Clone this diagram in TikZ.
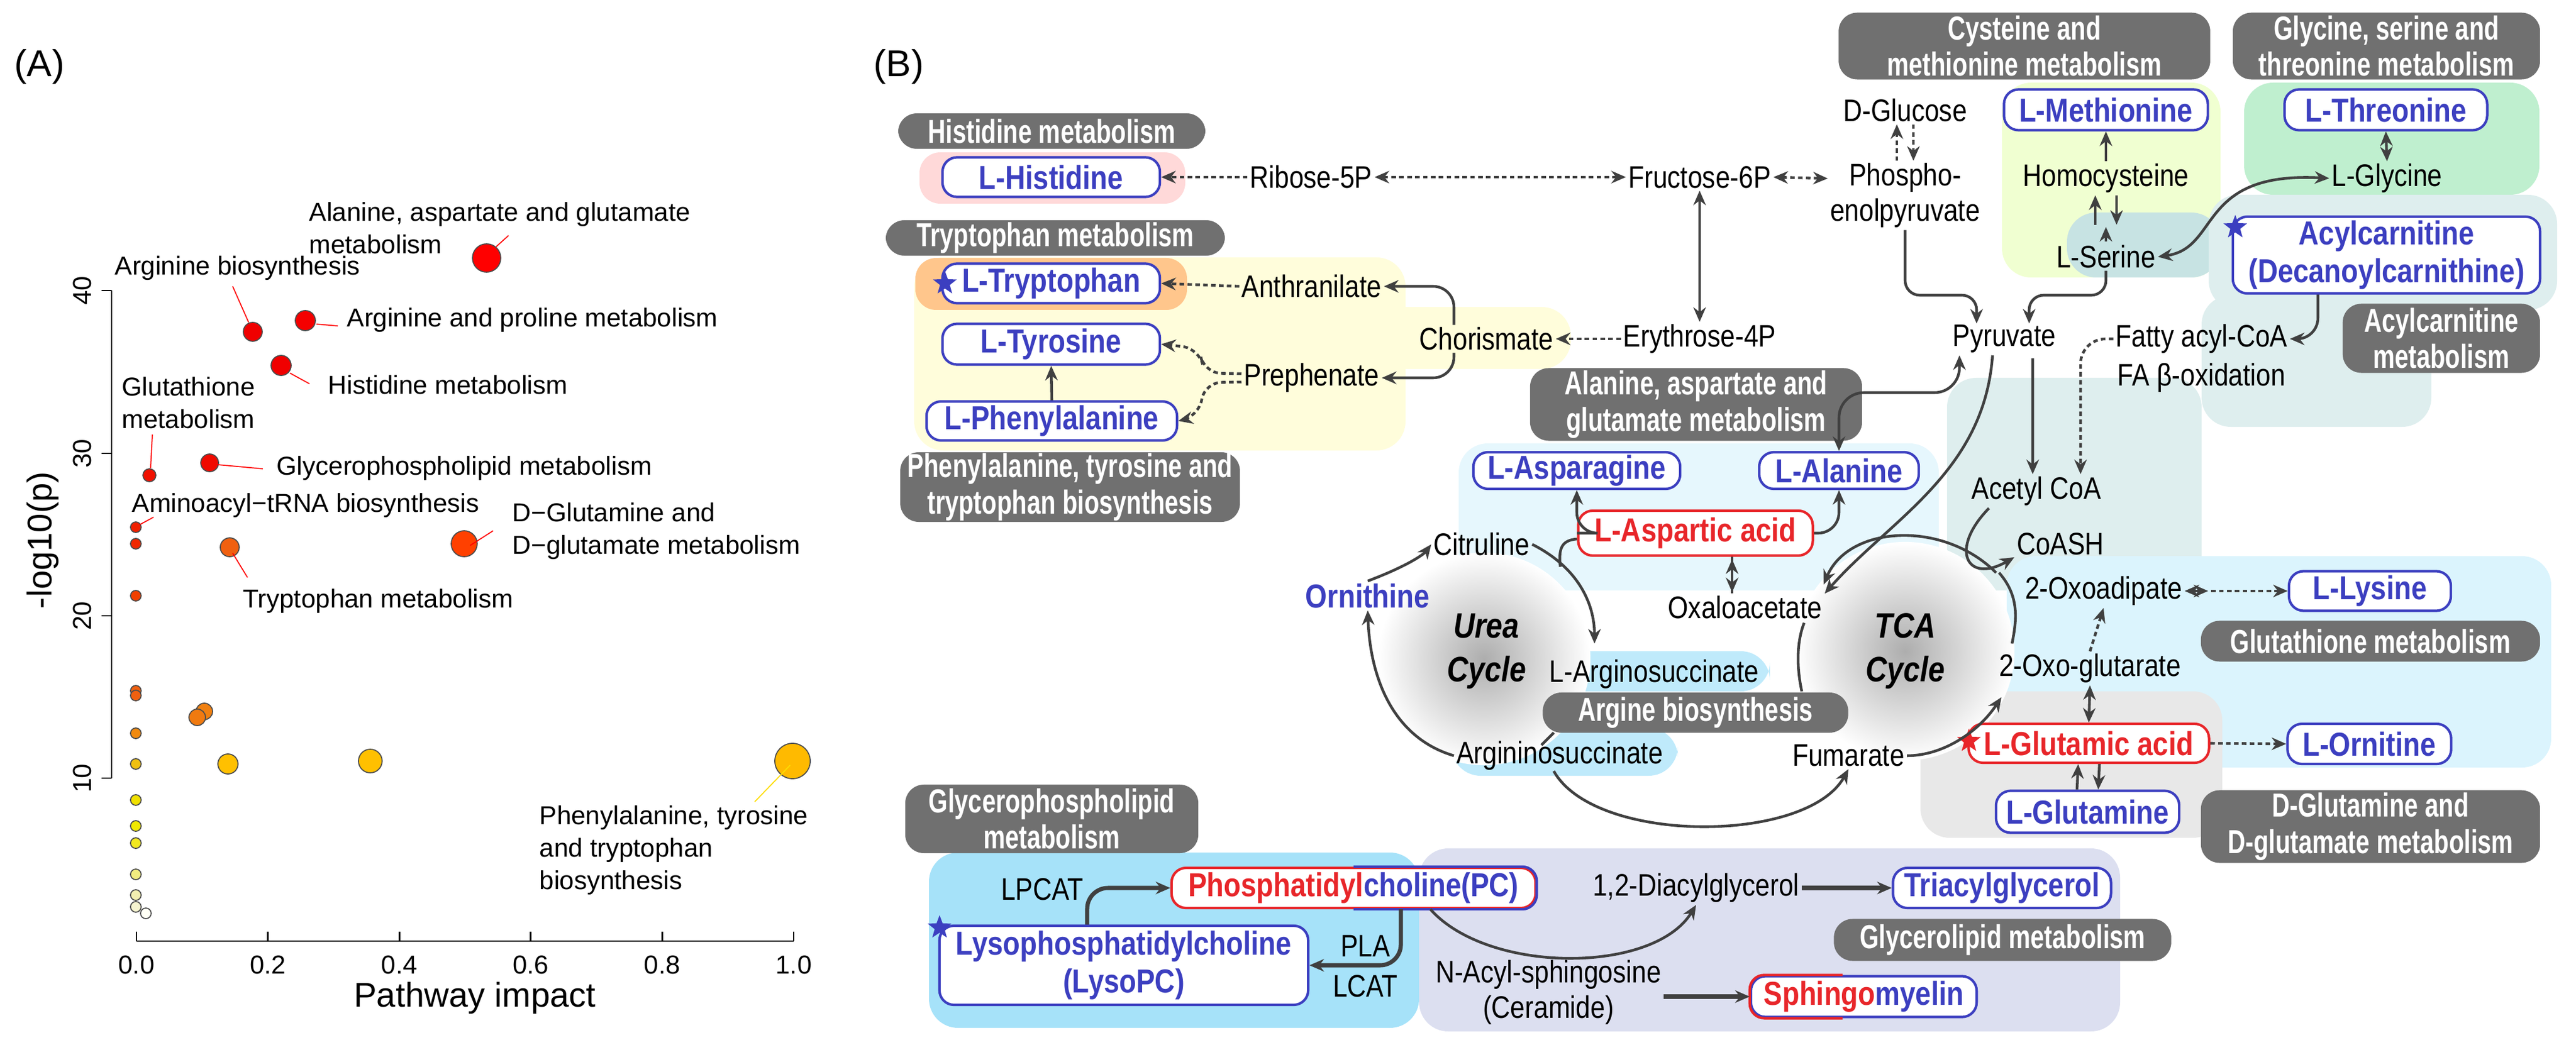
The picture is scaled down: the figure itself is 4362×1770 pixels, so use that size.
\documentclass[tikz,border=0pt]{standalone}
\usepackage{fontspec}
\setmainfont{Liberation Sans}
\newfontfamily\cf[FakeStretch=0.84]{Liberation Sans}
\newfontfamily\hf[FakeStretch=0.74]{Liberation Sans}
\usetikzlibrary{arrows.meta,shapes.geometric,calc}
\newcommand\nsz{\cf\fontsize{15}{17}\selectfont}
\newcommand\bsz{\cf\bfseries\fontsize{16}{18}\selectfont}
\newcommand\hsz{\hf\bfseries\fontsize{16}{17.5}\selectfont}
\newcommand\asz{\fontsize{12.5}{15.6}\selectfont}
\definecolor{nblue}{HTML}{3C3FC0}
\definecolor{nred}{HTML}{E8262A}
\definecolor{hgray}{HTML}{707070}
\definecolor{arr}{HTML}{404040}
\definecolor{lav}{HTML}{DCDFF0}
\begin{document}
\begin{tikzpicture}[x=0.01cm,y=-0.01cm,
 box/.style={draw=nblue,line width=1.2pt,fill=white,rounded corners=7pt,text=nblue,font=\bsz,inner sep=0pt,align=center},
 rbox/.style={box,draw=nred,text=nred},
 hdr/.style={fill=hgray,rounded corners=9pt,text=white,font=\hsz,align=center,inner sep=0pt},
 lab/.style={font=\nsz,inner sep=1pt,align=center},
 ar/.style={draw=arr,line width=1.3pt,-{Stealth[length=7pt,width=6pt]}},
 lr/.style={ar,{Stealth[length=7pt,width=6pt]}-{Stealth[length=7pt,width=6pt]}},
 pl/.style={draw=arr,line width=1.3pt},
 dar/.style={ar,dash pattern=on 2.2pt off 1.6pt},
 dlr/.style={lr,dash pattern=on 2.2pt off 1.6pt},
 lead/.style={draw=red,line width=0.5pt},
 alab/.style={font=\asz,anchor=west,align=left,inner sep=0pt},
 bg/.style={rounded corners=14pt},
 star5/.style={star,star points=5,star point ratio=2.4,inner sep=0pt,minimum size=0.42cm}]
\useasboundingbox (0,0) rectangle (4362,1770);
%================ Panel A =================
\node[font=\fontsize{18}{20}\selectfont] (lA) at (67,113) {(A)};
\draw[line width=0.8pt] (189,492) -- (189,1318);
\foreach \v/\yy in {40/492,30/768,20/1043,10/1318}{
 \draw[line width=0.8pt] (189,\yy) -- (172,\yy);
 \node[font=\asz,rotate=90] at (139,\yy) {\v};}
\draw[line width=0.8pt] (231,1594) -- (1344,1594);
\foreach \v [count=\i from 0] in {0.0,0.2,0.4,0.6,0.8,1.0}{
 \draw[line width=0.8pt] ({231+\i*222.6},1594) -- ({231+\i*222.6},1578);
 \node[font=\asz] at ({231+\i*222.6},1634) {\v};}
\node[font=\fontsize{16.5}{18}\selectfont] (xt) at (804,1690) {Pathway impact};
\node[font=\fontsize{16.5}{18}\selectfont,rotate=90] (yt) at (72,915) {-log10(p)};
\foreach \x/\y/\r/\c in {
 824/437/24/FF0000, 428/562/16/F00000, 517/543/17/F40000, 476/619/17/F00000,
 253/805/11/F01000, 355/784/15/F00A00, 230/893/9/F02000, 230/921/9/F02800,
 389/927/16/F06010, 786/921/22/FF4000, 230/1009/9/F04000, 230/1170/9/F06010,
 230/1178/9/F06010, 346/1205/14/F08010, 334/1215/14/F07A10, 230/1242/9/F08A10,
 230/1294/9/F0C010, 386/1294/17/FFC000, 627/1289/20/FFC000, 1342/1289/30/FFBA00,
 230/1355/9/F0E000, 230/1399/9/F0E800, 230/1428/9/F2E820, 230/1481/9/F2EC80,
 230/1516/9/F2EEB0, 230/1536/9/F6F4D0, 247/1547/9/FFFFF5}{
 \definecolor{cc}{HTML}{\c}
 \fill[cc,draw=black!70,line width=0.5pt] (\x,\y) circle[radius=\r*0.01cm];}
\draw[lead] (861,399) -- (840,418);
\draw[lead] (394,485) -- (421,546);
\draw[lead] (536,549) -- (572,552);
\draw[lead] (491,632) -- (524,650);
\draw[lead] (258,736) -- (255,793);
\draw[lead] (368,787) -- (445,794);
\draw[lead] (236,889) -- (260,876);
\draw[lead] (394,937) -- (419,978);
\draw[lead] (796,924) -- (835,899);
\draw[draw=yellow!80!orange,line width=0.5pt] (1338,1296) -- (1278,1358);
\node[alab] (a1) at (523,386) {Alanine, aspartate and glutamate\\metabolism};
\node[alab] (a2) at (194,454) {Arginine biosynthesis};
\node[alab] (a3) at (587,542) {Arginine and proline metabolism};
\node[alab] (a4) at (555,652) {Histidine metabolism};
\node[alab] (a5) at (206,682) {Glutathione\\metabolism};
\node[alab] (a6) at (468,793) {Glycerophospholipid metabolism};
\node[alab] (a7) at (223,856) {Aminoacyl−tRNA biosynthesis};
\node[alab] (a8) at (867,900) {D−Glutamine and\\D−glutamate metabolism};
\node[alab] (a9) at (411,1018) {Tryptophan metabolism};
\node[alab] (a10) at (913,1440) {Phenylalanine, tyrosine\\and tryptophan\\biosynthesis};
%================ Panel B backgrounds =================
\node[font=\fontsize{18}{20}\selectfont] (lB) at (1522,113) {(B)};
\fill[yellow!14,bg] (1548,436) rectangle (2380,763);
\fill[yellow!14,bg] (2300,520) rectangle (2660,625);
\fill[pink!60,rounded corners=10pt] (1557,258) rectangle (2007,345);
\fill[orange!45,rounded corners=10pt] (1550,437) rectangle (2010,525);
\fill[green!10!lime!18,bg] (3390,140) rectangle (3760,470);
\fill[teal!22,bg] (3500,360) rectangle (3760,470);
\fill[green!50!teal!25,bg] (3800,140) rectangle (4300,330);
\fill[teal!13,bg] (3740,330) rectangle (4330,525);
\fill[teal!13,bg] (3728,500) rectangle (4117,723);
\fill[teal!13,bg] (3297,640) rectangle (3728,1000);
\fill[cyan!10,bg] (2470,751) rectangle (3283,1000);
\fill[cyan!14,bg] (3398,942) rectangle (4320,1300);
\fill[black!9,bg] (3252,1171) rectangle (3763,1419);
\fill[cyan!25,bg] (2613,1103) rectangle (2997,1171);
\fill[cyan!25,bg] (2458,1233) rectangle (2841,1314);
\fill[cyan!35,bg] (1573,1444) rectangle (2403,1741);
\fill[lav,bg] (2403,1437) rectangle (3590,1747);
\shade[inner color=black!32,outer color=white] (2513,1116) circle[radius=1.8cm];
\shade[inner color=black!32,outer color=white] (3226,1103) circle[radius=1.85cm];
%================ Panel B headers =================
\node[hdr,minimum width=5.20cm,minimum height=0.60cm] (hHis) at (1781,222) {Histidine metabolism};
\node[hdr,minimum width=5.74cm,minimum height=0.60cm] (hTrp) at (1787,403) {Tryptophan metabolism};
\node[hdr,minimum width=5.75cm,minimum height=1.18cm] (hPhe) at (1812,825) {Phenylalanine, tyrosine and\\tryptophan biosynthesis};
\node[hdr,minimum width=5.62cm,minimum height=1.23cm] (hAla) at (2872,685) {Alanine, aspartate and\\glutamate metabolism};
\node[hdr,minimum width=6.29cm,minimum height=1.13cm] (hCys) at (3428,78) {Cysteine and\\methionine metabolism};
\node[hdr,minimum width=5.20cm,minimum height=1.13cm] (hGly) at (4041,78) {Glycine, serine and\\threonine metabolism};
\node[hdr,minimum width=3.34cm,minimum height=1.17cm] (hAcyl) at (4134,573) {Acylcarnitine\\metabolism};
\node[hdr,minimum width=5.17cm,minimum height=0.68cm] (hArg) at (2871,1207) {Argine biosynthesis};
\node[hdr,minimum width=5.74cm,minimum height=0.69cm] (hGsh) at (4014,1086) {Glutathione metabolism};
\node[hdr,minimum width=5.74cm,minimum height=1.23cm] (hDG) at (4014,1400) {D-Glutamine and\\D-glutamate metabolism};
\node[hdr,minimum width=4.96cm,minimum height=1.16cm] (hGP) at (1781,1387) {Glycerophospholipid\\metabolism};
\node[hdr,minimum width=5.71cm,minimum height=0.71cm] (hGL) at (3391,1592) {Glycerolipid metabolism};
%================ Panel B boxes =================
\node[box,minimum width=3.68cm,minimum height=0.67cm] (his) at (1780,300) {L-Histidine};
\node[box,minimum width=3.68cm,minimum height=0.67cm] (trp) at (1780,480) {L-Tryptophan};
\node[box,minimum width=3.68cm,minimum height=0.69cm] (tyr) at (1780,583) {L-Tyrosine};
\node[box,minimum width=4.24cm,minimum height=0.66cm] (phe) at (1781,713) {L-Phenylalanine};
\node[box,minimum width=3.50cm,minimum height=0.62cm] (asn) at (2670,797) {L-Asparagine};
\node[box,minimum width=2.70cm,minimum height=0.62cm] (ala) at (3114,797) {L-Alanine};
\node[rbox,minimum width=3.97cm,minimum height=0.76cm] (asp) at (2871,903) {L-Aspartic acid};
\node[box,minimum width=3.45cm,minimum height=0.69cm] (met) at (3566,186) {L-Methionine};
\node[box,minimum width=3.43cm,minimum height=0.69cm] (thr) at (4040,186) {L-Threonine};
\node[box,minimum width=5.20cm,minimum height=1.30cm] (acyl) at (4041,432) {Acylcarnitine\\(Decanoylcarnithine)};
\node[box,minimum width=2.74cm,minimum height=0.67cm] (lys) at (4013,1001) {L-Lysine};
\node[rbox,minimum width=4.07cm,minimum height=0.66cm] (glu) at (3537,1259) {L-Glutamic acid};
\node[box,minimum width=2.77cm,minimum height=0.68cm] (orn2) at (4012,1260) {L-Ornitine};
\node[box,minimum width=3.10cm,minimum height=0.71cm] (gln) at (3535,1375) {L-Glutamine};
\node[box,draw=nred,minimum width=6.16cm,minimum height=0.68cm] (pc) at (2292,1504) {\textcolor{nred}{Phosphatidyl}choline(PC)};
\begin{scope}
 \clip (2292,1400) rectangle (2700,1600);
 \draw[nblue,line width=1.2pt,rounded corners=7pt] (pc.south west) rectangle (pc.north east);
\end{scope}
\node[box,minimum width=3.69cm,minimum height=0.68cm] (tag) at (3390,1504) {Triacylglycerol};
\node[box,minimum width=6.24cm,minimum height=1.34cm] (lpc) at (1903,1635) {Lysophosphatidylcholine\\(LysoPC)};
\node[box,minimum width=3.82cm,minimum height=0.69cm] (sm) at (3156,1688) {\textcolor{nred}{Sphingo}myelin};
\begin{scope}
 \clip (2900,1600) rectangle (3120,1780);
 \draw[nred,line width=1.2pt,rounded corners=7pt] (sm.south west) rectangle (sm.north east);
\end{scope}
\node[star5,fill=nblue] (s1) at (1600,480) {};
\node[star5,fill=nblue] (s2) at (3785,385) {};
\node[star5,fill=nred] (s3) at (3334,1255) {};
\node[star5,fill=nblue] (s4) at (1591,1571) {};
%================ Panel B labels =================
\node[lab] (rib) at (2220,300) {Ribose-5P};
\node[lab] (fru) at (2878,300) {Fructose-6P};
\node[lab] (anth) at (2221,485) {Anthranilate};
\node[lab] (pre) at (2221,640) {Prephenate};
\node[lab] (cho) at (2517,574) {Chorismate};
\node[lab] (ery) at (2878,574) {Erythrose-4P};
\node[lab] (glc) at (3226,187) {D-Glucose};
\node[lab] (pep) at (3226,331) {Phospho-\\enolpyruvate};
\node[lab] (hcy) at (3566,302) {Homocysteine};
\node[lab] (gly) at (4042,302) {L-Glycine};
\node[lab] (ser) at (3566,435) {L-Serine};
\node[lab] (pyr) at (3394,574) {Pyruvate};
\node[lab] (fac) at (3728,574) {Fatty acyl-CoA};
\node[lab] (fab) at (3728,640) {FA β-oxidation};
\node[lab] (acoa) at (3448,832) {Acetyl CoA};
\node[lab] (coa) at (3489,921) {CoASH};
\node[lab] (cit) at (2509,922) {Citruline};
\node[lab,text=nblue,font=\bsz] (orn) at (2316,1009) {Ornithine};
\node[lab,font=\cf\bfseries\itshape\fontsize{17}{21}\selectfont] (urea) at (2517,1103) {Urea\\Cycle};
\node[lab] (oaa) at (2955,1029) {Oxaloacetate};
\node[lab,font=\cf\bfseries\itshape\fontsize{17}{21}\selectfont] (tca) at (3226,1103) {TCA\\Cycle};
\node[lab] (ags) at (2801,1142) {L-Arginosuccinate};
\node[lab] (agsL) at (2641,1280) {Argininosuccinate};
\node[lab] (fum) at (3130,1280) {Fumarate};
\node[lab] (oxg) at (3539,1132) {2-Oxo-glutarate};
\node[lab] (oxa) at (3562,1001) {2-Oxoadipate};
\node[lab] (lpcat) at (1765,1506) {LPCAT};
\node[lab] (pla) at (2312,1602) {PLA};
\node[lab] (lcat) at (2312,1670) {LCAT};
\node[lab] (dag) at (2872,1504) {1,2-Diacylglycerol};
\node[lab] (cer) at (2622,1681) {N-Acyl-sphingosine\\(Ceramide)};
%================ Panel B connectors =================
\draw[dar] (rib.west) -- (his.east);
\draw[dlr] (rib.east) -- (fru.west);
\draw[lr] (fru.south) -- (ery.north);
\draw[dlr] (fru.east) -- ([yshift=-0.3cm]pep.north west);
\draw[dar] ([xshift=-0.14cm]pep.north) -- ([xshift=-0.14cm]glc.south);
\draw[dar] ([xshift=0.14cm]glc.south) -- ([xshift=0.14cm]pep.north);
\draw[dar] (ery.west) -- (cho.east);
\draw[ar,rounded corners=10pt] ([xshift=-0.55cm]cho.north) |- (anth.east);
\draw[ar,rounded corners=10pt] ([xshift=-0.55cm]cho.south) |- (pre.east);
\draw[dar] (anth.west) -- (trp.east);
\draw[dar,rounded corners=8pt] ([yshift=2pt]pre.west) -- (2040,632) -- (2030,590) -- (tyr.east);
\draw[dar,rounded corners=8pt] ([yshift=-2pt]pre.west) -- (2040,648) -- (2030,705) -- (phe.east);
\draw[ar] (phe.north) -- (tyr.south);
\draw[ar,rounded corners=7pt] (pep.south) -- (3226,500) -- (3347,500) -- (3347,548);
\draw[ar,rounded corners=7pt] (ser.south) -- (3566,500) -- (3436,500) -- (3436,548);
\draw[ar] (hcy.north) -- (met.south);
\draw[ar] ([xshift=-0.18cm]hcy.south) ++(0,50) -- ([xshift=-0.18cm]hcy.south);
\draw[ar] ([xshift=0.18cm]hcy.south) -- ++(0,50);
\draw[ar] ([yshift=0.02cm]ser.north) -- ++(0,-25);
\draw[lr] (thr.south) -- (gly.north);
\draw[lr] (ser.east) .. controls (3760,420) and (3720,290) .. (gly.west);
\draw[ar,rounded corners=10pt] ([xshift=-1.16cm]acyl.south) |- (fac.east);
\draw[dar,rounded corners=12pt] (fac.west) -| ([xshift=0.75cm]acoa.north);
\draw[ar] ([yshift=-0.05cm]pyr.south) ++(48,0) -- ([xshift=-0.06cm]acoa.north);
\draw[lr,rounded corners=12pt] (ala.north) |- (3318,665) -- ([xshift=-0.76cm]pyr.south);
\draw[ar] ([xshift=-0.2cm]pyr.south) .. controls (3360,800) and (3200,880) .. (oaa.north east);
\draw[ar] (asp.south) ++(62,0) -- ++(0,60);
\draw[ar] (oaa.north) ++(-22,0) -- ++(0,-58);
\draw[ar,rounded corners=10pt] (asp.west) -| (asn.south);
\draw[ar,rounded corners=10pt] (asp.east) -| (ala.south);
\draw[ar] (3380,970) .. controls (3290,880) and (3130,890) .. (3088,990);
\draw[ar] ([xshift=-0.8cm]acoa.south) .. controls (3300,930) and (3330,990) .. (coa.south west);
\draw[pl] (3385,970) .. controls (3420,1010) and (3415,1050) .. (3407,1090);
\draw[pl] (3051,1171) .. controls (3040,1120) and (3045,1080) .. (3055,1055);
\draw[ar] (fum.east) .. controls (3290,1280) and (3350,1240) .. (3389,1181);
\draw[lr] (oxg.south) -- (glu.north);
\draw[dar] (oxg.north) -- (oxa.south);
\draw[lr] (oxa.east) -- ++(40,0);
\draw[dar] ([xshift=0.45cm]oxa.east) -- (lys.west);
\draw[dar] (glu.east) -- (orn2.west);
\draw[ar] ([xshift=-0.18cm]gln.north) -- ([xshift=-0.18cm]glu.south);
\draw[ar] ([xshift=0.18cm]glu.south) -- ([xshift=0.18cm]gln.north);
\draw[ar] (cit.east) .. controls (2670,960) and (2700,1020) .. (2700,1090);
\draw[pl] ([yshift=-0.1cm]asp.west) .. controls (2640,915) and (2640,935) .. (2642,960);
\draw[ar] (agsL.west) .. controls (2360,1250) and (2320,1150) .. (orn.south);
\draw[ar] (orn.north) .. controls (2380,960) and (2410,940) .. (cit.west);
\draw[ar] (2631,1306) .. controls (2700,1430) and (3060,1430) .. (fum.south);
\draw[pl] (2631,1241) -- (2610,1262);
\draw[ar,line width=2pt,rounded corners=10pt] ([xshift=-0.62cm]lpc.north) |- (pc.west);
\draw[ar,line width=2pt,rounded corners=10pt] ([xshift=0.8cm]pc.south) |- (lpc.east);
\draw[ar] ([xshift=1.3cm]pc.south) .. controls (2520,1650) and (2800,1650) .. (dag.south);
\draw[ar,line width=2pt] (dag.east) -- (tag.west);
\draw[ar,line width=2pt] (cer.east) ++(0,7) -- (sm.west);
\end{tikzpicture}
\end{document}
